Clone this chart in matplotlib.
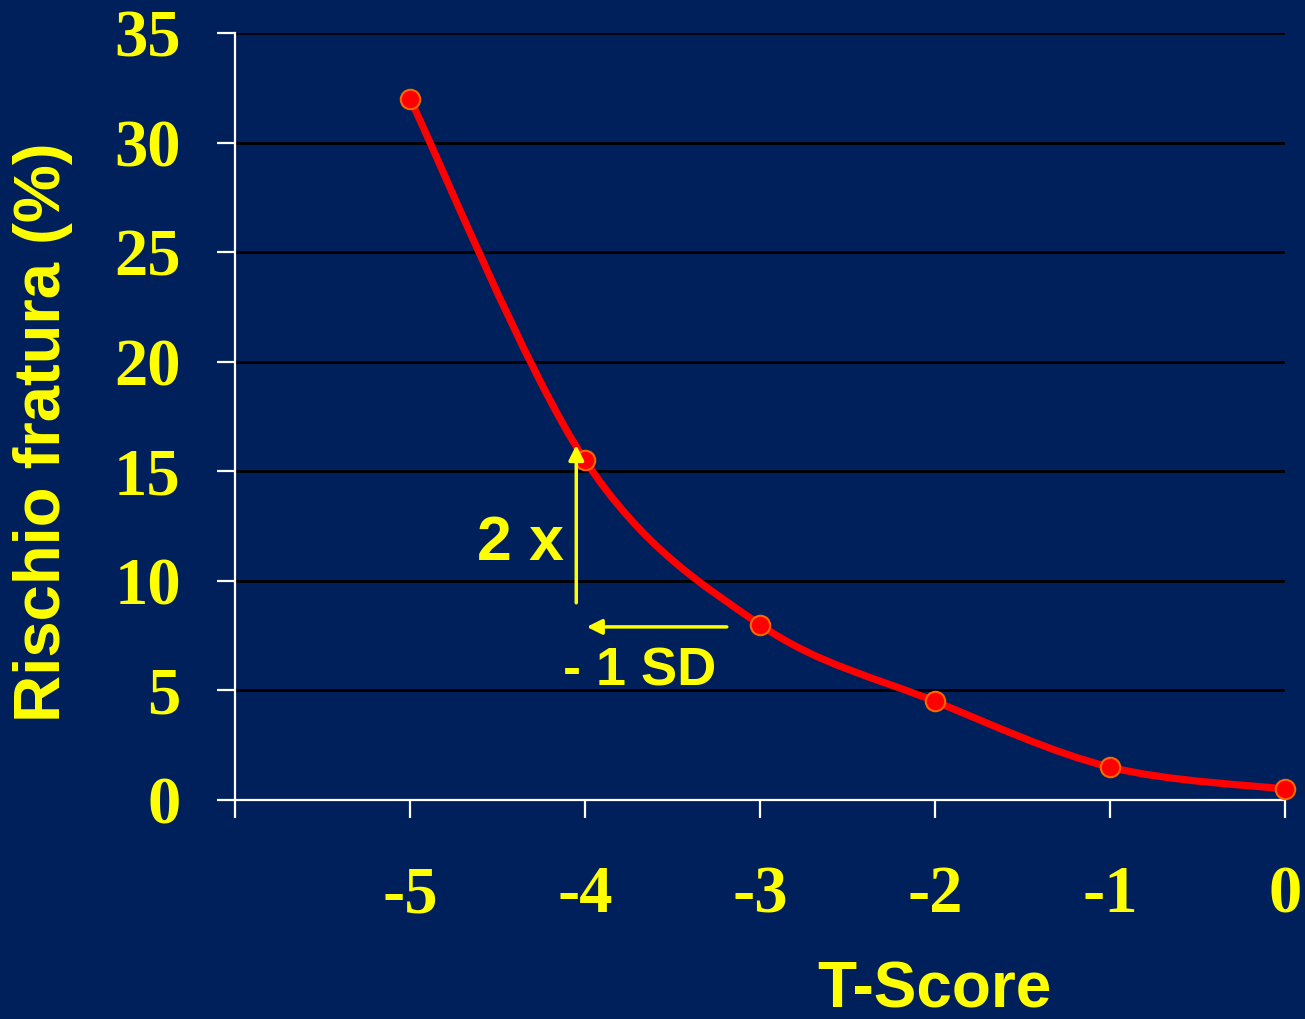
import numpy as np
import matplotlib.pyplot as plt
from matplotlib.path import Path
from matplotlib.patches import PathPatch

# fracture risk by T-score
t_score = [-5, -4, -3, -2, -1, 0]
risk = [32, 15.5, 8, 4.5, 1.5, 0.5]

y_ticks = [0, 5, 10, 15, 20, 25, 30, 35]
x_ticks = [-6, -5, -4, -3, -2, -1, 0]
x_labels = ['', '-5', '-4', '-3', '-2', '-1', '0']

navy = '#00205B'
yellow = '#FFFF00'

fig = plt.figure(figsize=(13.05, 10.19), dpi=100, facecolor=navy)
ax = fig.add_axes([0.1801, 0.2149, 0.8046, 0.7527])
ax.set_facecolor(navy)

ax.set_xlim(-6, 0)
ax.set_ylim(0, 35)
ax.set_yticks(y_ticks)
ax.set_xticks(x_ticks)
ax.set_xticklabels(x_labels)

for y in y_ticks[1:]:
    ax.axhline(y, color='black', lw=2.0, zorder=1)

for s in ['top', 'right']:
    ax.spines[s].set_visible(False)
for s in ['left', 'bottom']:
    ax.spines[s].set_color('white')
    ax.spines[s].set_linewidth(1.6)
    ax.spines[s].set_zorder(2)

serif = ['Liberation Serif', 'DejaVu Serif']
sans = ['Liberation Sans', 'DejaVu Sans']
ax.tick_params(axis='both', colors='white', width=1.6, length=13, direction='out')
ax.tick_params(axis='y', pad=26)
ax.tick_params(axis='x', pad=34)
for lab in ax.get_xticklabels() + ax.get_yticklabels():
    lab.set_family(serif)
    lab.set_fontweight('bold')
    lab.set_fontsize(48)
    lab.set_color(yellow)

# smoothed curve through the points (Excel style bezier)
pts = np.column_stack([t_score, risk]).astype(float)
verts = [pts[0]]
codes = [Path.MOVETO]
n = len(pts)
for i in range(n - 1):
    p0 = pts[max(i - 1, 0)]
    p1 = pts[i]
    p2 = pts[i + 1]
    p3 = pts[min(i + 2, n - 1)]
    c1 = p1 + (p2 - p0) / 6.0
    c2 = p2 - (p3 - p1) / 6.0
    verts += [c1, c2, p2]
    codes += [Path.CURVE4] * 3
ax.add_patch(PathPatch(Path(verts, codes), facecolor='none', edgecolor='#FF0000',
                       lw=5.2, zorder=4, clip_on=False, capstyle='round'))
ax.plot(t_score, risk, 'o', ms=14, mfc='#FF0000', mec='#FF6600', mew=1.5,
        zorder=5, clip_on=False)

# doubling arrow and -1 SD arrow
arrow = dict(arrowstyle='-|>,head_length=0.9,head_width=0.45', color=yellow, lw=2.5,
             shrinkA=0, shrinkB=0)
ax.annotate('', xy=(-4.05, 16.2), xytext=(-4.05, 9.0), arrowprops=arrow, zorder=6)
ax.annotate('', xy=(-3.99, 7.9), xytext=(-3.19, 7.9), arrowprops=arrow, zorder=6)

ax.text(-4.12, 11.7, '2 x', family=sans, fontweight='bold', fontsize=45,
        color=yellow, ha='right', va='center', zorder=6)
ax.text(-3.686, 5.85, '- 1 SD', family=sans, fontweight='bold', fontsize=39,
        color=yellow, ha='center', va='center', zorder=6)

fig.text(43 / 1305, 1 - 432 / 1019, 'Rischio fratura (%)', family=sans,
         fontweight='bold', fontsize=47, color=yellow, rotation=90,
         ha='center', va='center')
fig.text(934 / 1305, 1 - 991 / 1019, 'T-Score', family=sans, fontweight='bold',
         fontsize=46, color=yellow, ha='center', va='center')

fig.savefig('out.png', dpi=100, facecolor=navy)
